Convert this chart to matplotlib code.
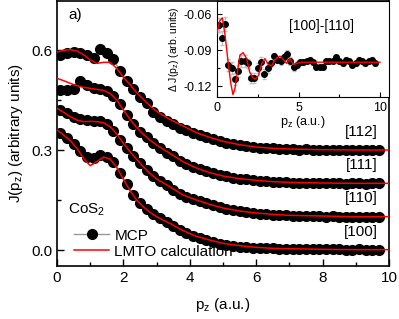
import numpy as np
import matplotlib
matplotlib.use("Agg")
import matplotlib.pyplot as plt
from matplotlib.ticker import MultipleLocator

plt.rcParams['font.family'] = ['Liberation Sans', 'DejaVu Sans']
plt.rcParams['mathtext.fontset'] = 'custom'
plt.rcParams['mathtext.rm'] = 'Liberation Sans'
plt.rcParams['mathtext.it'] = 'Liberation Sans'

# measured MCP profiles (offset by 0.1 per direction)
p_mcp = np.arange(0.1, 9.8, 0.2)
j112 = [0.585, 0.592, 0.595, 0.590, 0.585, 0.576, 0.604, 0.592, 0.572, 0.537,
        0.508, 0.482, 0.458, 0.440, 0.415, 0.400, 0.388, 0.377, 0.367, 0.360,
        0.352, 0.345, 0.338, 0.333, 0.327, 0.322, 0.318, 0.314, 0.312, 0.309,
        0.307, 0.306, 0.305, 0.303, 0.303, 0.302, 0.301, 0.302, 0.300, 0.301,
        0.300, 0.299, 0.300, 0.300, 0.299, 0.300, 0.299, 0.300, 0.299]
j111 = [0.480, 0.480, 0.484, 0.508, 0.495, 0.487, 0.482, 0.478, 0.462, 0.437,
        0.405, 0.378, 0.355, 0.338, 0.320, 0.305, 0.292, 0.281, 0.268, 0.258,
        0.250, 0.242, 0.236, 0.230, 0.225, 0.221, 0.217, 0.214, 0.212, 0.209,
        0.207, 0.206, 0.205, 0.204, 0.203, 0.202, 0.202, 0.201, 0.201, 0.200,
        0.201, 0.200, 0.200, 0.199, 0.200, 0.200, 0.199, 0.200, 0.200]
j110 = [0.420, 0.410, 0.400, 0.392, 0.390, 0.388, 0.386, 0.378, 0.357, 0.330,
        0.305, 0.282, 0.260, 0.240, 0.222, 0.207, 0.194, 0.181, 0.169, 0.160,
        0.152, 0.146, 0.140, 0.134, 0.129, 0.124, 0.120, 0.117, 0.114, 0.111,
        0.109, 0.107, 0.106, 0.105, 0.104, 0.103, 0.102, 0.102, 0.101, 0.101,
        0.100, 0.101, 0.100, 0.100, 0.099, 0.100, 0.100, 0.099, 0.100]
j100 = [0.350, 0.335, 0.318, 0.298, 0.280, 0.276, 0.284, 0.279, 0.263, 0.232,
        0.197, 0.165, 0.140, 0.122, 0.107, 0.095, 0.084, 0.072, 0.060, 0.050,
        0.042, 0.035, 0.030, 0.024, 0.019, 0.015, 0.012, 0.010, 0.008, 0.007,
        0.006, 0.005, 0.005, 0.004, 0.004, 0.003, 0.003, 0.003, 0.002, 0.002,
        0.002, 0.002, 0.002, 0.001, 0.001, 0.002, 0.001, 0.001, 0.001]

# LMTO calculation
p_calc = [0.0, 0.2, 0.4, 0.6, 0.8, 1.0, 1.2, 1.4, 1.6, 1.8, 2.0, 2.2, 2.4, 2.6,
          2.8, 3.0, 3.4, 3.8, 4.2, 4.6, 5.0, 5.5, 6.0, 6.5, 7.0, 8.0, 9.0, 10.0]
c112 = [0.594, 0.599, 0.601, 0.597, 0.586, 0.570, 0.560, 0.563, 0.563, 0.545,
        0.518, 0.496, 0.472, 0.452, 0.433, 0.416, 0.392, 0.372, 0.352, 0.338,
        0.326, 0.316, 0.309, 0.305, 0.303, 0.301, 0.300, 0.300]
c111 = [0.515, 0.508, 0.500, 0.493, 0.488, 0.485, 0.482, 0.479, 0.470, 0.450,
        0.420, 0.392, 0.367, 0.347, 0.330, 0.315, 0.290, 0.265, 0.246, 0.232,
        0.222, 0.214, 0.209, 0.205, 0.203, 0.201, 0.200, 0.200]
c110 = [0.425, 0.413, 0.400, 0.390, 0.385, 0.386, 0.385, 0.382, 0.370, 0.348,
        0.320, 0.295, 0.272, 0.250, 0.230, 0.213, 0.190, 0.165, 0.150, 0.137,
        0.126, 0.117, 0.111, 0.107, 0.104, 0.102, 0.100, 0.100]
c100 = [0.360, 0.345, 0.328, 0.305, 0.275, 0.253, 0.265, 0.279, 0.273, 0.248,
        0.212, 0.178, 0.150, 0.130, 0.113, 0.100, 0.080, 0.058, 0.041, 0.030,
        0.020, 0.013, 0.008, 0.005, 0.004, 0.002, 0.001, 0.001]

# inset: anisotropy [100]-[110]
d_mcp = [-0.069, -0.080, -0.068, -0.102, -0.105, -0.114, -0.107, -0.099, -0.099, -0.101,
         -0.113, -0.113, -0.105, -0.100, -0.110, -0.105, -0.101, -0.095, -0.098, -0.099,
         -0.096, -0.093, -0.099, -0.104, -0.102, -0.100, -0.100, -0.099, -0.098, -0.100,
         -0.104, -0.104, -0.104, -0.099, -0.099, -0.099, -0.096, -0.099, -0.101, -0.098,
         -0.099, -0.102, -0.101, -0.098, -0.099, -0.101, -0.099, -0.098, -0.101]
d_err = [0.006, 0.006, 0.006, 0.005, 0.005, 0.005, 0.005, 0.005, 0.005, 0.004,
         0.004, 0.004, 0.004, 0.004, 0.004, 0.004, 0.003, 0.003, 0.003, 0.003,
         0.003, 0.003, 0.003, 0.003, 0.003, 0.002, 0.002, 0.002, 0.002, 0.002,
         0.002, 0.002, 0.002, 0.002, 0.002, 0.002, 0.002, 0.002, 0.002, 0.002,
         0.002, 0.002, 0.002, 0.002, 0.002, 0.002, 0.002, 0.002, 0.002]
p_dcalc = [0.0, 0.15, 0.33, 0.5, 0.69, 0.85, 0.98, 1.1, 1.25, 1.41, 1.6, 1.82, 2.0,
           2.2, 2.35, 2.55, 2.74, 2.94, 3.15, 3.35, 3.55, 3.7, 3.87, 4.07, 4.27,
           4.48, 4.7, 4.9, 5.2, 6.0, 7.0, 8.0, 9.0, 10.0]
d_calc = [-0.076, -0.066, -0.063, -0.078, -0.101, -0.118, -0.127, -0.122, -0.108,
          -0.094, -0.092, -0.097, -0.108, -0.113, -0.114, -0.111, -0.101, -0.097,
          -0.102, -0.103, -0.098, -0.096, -0.095, -0.098, -0.101, -0.097, -0.102,
          -0.101, -0.100, -0.100, -0.100, -0.100, -0.100, -0.100]

labels = ['[112]', '[111]', '[110]', '[100]']
offsets = [0.3, 0.2, 0.1, 0.0]

fig = plt.figure(figsize=(3.99, 3.19), dpi=100)
ax = fig.add_axes([57/399, 1-266/319, 332/399, 265/319])

for i, (jm, jc) in enumerate(zip([j112, j111, j110, j100], [c112, c111, c110, c100])):
    ax.plot(p_mcp, jm, '-o', color='0.6', lw=1, mfc='k', mec='k', ms=7,
            label='MCP' if i == 0 else None, zorder=2)
    ax.plot(p_calc, jc, '-', color='red', lw=1.1,
            label='LMTO calculation' if i == 0 else None, zorder=3)
    ax.text(9.65, offsets[i] + 0.055, labels[i], ha='right', va='center', fontsize=11)

ax.set_xlim(0, 10)
ax.set_ylim(-0.048, 0.747)
ax.xaxis.set_major_locator(MultipleLocator(2))
ax.xaxis.set_minor_locator(MultipleLocator(1))
ax.yaxis.set_major_locator(MultipleLocator(0.3))
ax.yaxis.set_minor_locator(MultipleLocator(0.15))
ax.tick_params(which='both', direction='in', labelsize=11, width=1)
ax.tick_params(which='major', length=5)
ax.tick_params(which='minor', length=3)
ax.set_xlabel(r'p$_\mathregular{z}$ (a.u.)', fontsize=11, labelpad=8)
ax.set_ylabel(r'J(p$_\mathregular{z}$) (arbitrary units)', fontsize=11, labelpad=4)
for s in ax.spines.values():
    s.set_linewidth(1.2)
ax.text(0.33, 0.705, 'a)', ha='left', va='center', fontsize=11)
ax.text(0.33, 0.12, r'CoS$_\mathregular{2}$', ha='left', va='center', fontsize=11)

leg = ax.legend(loc='lower left', bbox_to_anchor=(0.015, -0.019), frameon=False,
                fontsize=11, handlelength=2.3, handletextpad=0.33, labelspacing=0.15,
                borderpad=0.3)

# inset
axi = fig.add_axes([217/399, 1-97/319, 172/399, 96/319])
axi.errorbar(p_mcp, d_mcp, yerr=d_err, fmt='o', color='k', ms=4,
             ecolor='0.75', elinewidth=0.8, capsize=1.5, zorder=2)
axi.plot(p_dcalc, d_calc, '-', color='red', lw=1, zorder=3)
axi.set_xlim(0, 10.55)
axi.set_ylim(-0.129, -0.049)
axi.xaxis.set_major_locator(MultipleLocator(5))
axi.xaxis.set_minor_locator(MultipleLocator(2.5))
axi.yaxis.set_major_locator(MultipleLocator(0.03))
axi.yaxis.set_minor_locator(MultipleLocator(0.015))
axi.tick_params(which='both', direction='in', labelsize=9, width=0.8)
axi.tick_params(which='major', length=3.5)
axi.tick_params(which='minor', length=2)
axi.set_yticks([-0.06, -0.09, -0.12])
axi.set_yticklabels(['-0.06', '-0.09', '-0.12'])
axi.set_xlabel(r'p$_\mathregular{z}$ (a.u.)', fontsize=9, labelpad=0)
axi.set_ylabel(r'$\Delta$ J(p$_\mathregular{z}$) (arb. units)', fontsize=7.5, labelpad=2)
axi.text(6.4, -0.0695, '[100]-[110]', ha='center', va='center', fontsize=10)

fig.savefig('out.png', dpi=100)
